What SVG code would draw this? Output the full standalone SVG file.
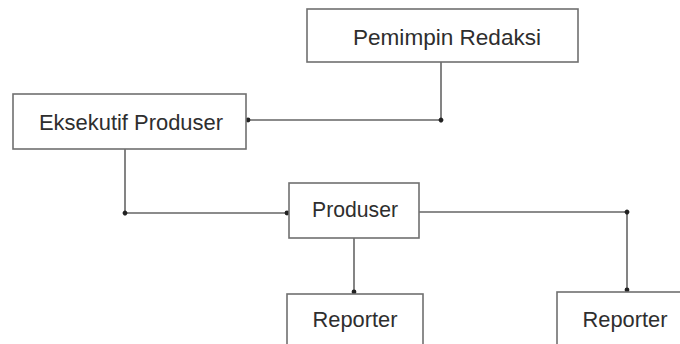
<svg xmlns="http://www.w3.org/2000/svg" width="680" height="344" viewBox="0 0 680 344">
<style>
.box{fill:#fff;stroke:#707070;stroke-width:1.6}
.lbl{font-family:"Liberation Sans",Arial,sans-serif;font-size:22px;fill:#2e2e2e;text-anchor:middle}
.con{fill:none;stroke:#666;stroke-width:1.6;marker-mid:url(#dot);marker-end:url(#dot)}
</style>
<defs>
<marker id="dot" viewBox="0 0 6 6" refX="3" refY="3" markerWidth="6" markerHeight="6" markerUnits="userSpaceOnUse" orient="auto">
<circle cx="3" cy="3" r="2.4" fill="#222"/>
</marker>
</defs>
<rect width="680" height="344" fill="#fff"/>
<g id="connectors">
<polyline class="con" points="441,62 441,120 248,120"/>
<polyline class="con" points="125,149 125,213 287,213"/>
<polyline class="con" points="419,212 627,212 627,290"/>
<polyline class="con" points="354,238 354,292"/>
</g>
<g id="pemimpin-redaksi">
<rect class="box" x="307" y="9" width="271" height="53"/>
<text class="lbl" x="447" y="45" textLength="188" lengthAdjust="spacingAndGlyphs">Pemimpin Redaksi</text>
</g>
<g id="eksekutif-produser">
<rect class="box" x="13" y="94" width="233" height="55"/>
<text class="lbl" x="131" y="130" textLength="184" lengthAdjust="spacingAndGlyphs">Eksekutif Produser</text>
</g>
<g id="produser">
<rect class="box" x="289" y="183" width="130" height="55"/>
<text class="lbl" x="355" y="217" textLength="86" lengthAdjust="spacingAndGlyphs">Produser</text>
</g>
<g id="reporter-1">
<rect class="box" x="287" y="294" width="136" height="60"/>
<text class="lbl" x="355" y="327" textLength="85" lengthAdjust="spacingAndGlyphs">Reporter</text>
</g>
<g id="reporter-2">
<rect class="box" x="557" y="292" width="130" height="60"/>
<text class="lbl" x="625" y="327" textLength="85" lengthAdjust="spacingAndGlyphs">Reporter</text>
</g>
</svg>
